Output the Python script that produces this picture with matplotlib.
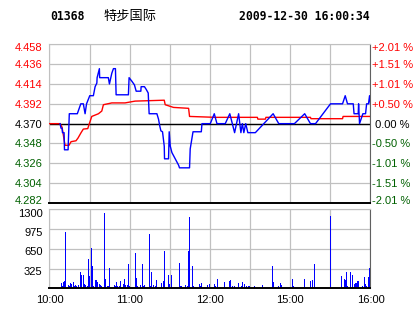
import matplotlib
matplotlib.use("Agg")
import matplotlib.pyplot as plt
from matplotlib.transforms import ScaledTranslation

# trading minutes since 10:00 (morning 10:00-12:30, afternoon 14:30-16:00)
price_t = [7.9, 8.6, 9.4, 9.7, 10.9, 11.2, 13.9, 14.8, 20.8, 23.4, 25.3, 26.6, 27.7, 30.1,
           32.8, 34.1, 35.4, 35.6, 37.3, 37.5, 44.0, 44.8, 46.6, 47.8, 49.3, 49.8, 59.0,
           59.5, 61.6, 63.5, 64.8, 68.3, 68.5, 71.0, 72.3, 73.8, 74.5, 80.3, 81.5, 82.5,
           83.3, 84.5, 85.8, 86.0, 89.0, 89.5, 90.3, 91.5, 94.0, 96.5, 97.2, 104.7, 105.2,
           107.3, 113.5, 114.0, 120.2, 123.2, 125.2, 131.4, 134.8, 138.4, 141.4, 143.1,
           144.2, 145.3, 146.7, 148.3, 153.9, 167.2, 171.4, 183.1, 190.8, 195.1, 198.9,
           210.1, 219.1, 221.1, 222.8, 227.1, 227.7, 230.8, 231.1, 231.8, 234.3, 236.3,
           237.1, 238.5, 239.3, 240.0]
price = [4.370, 4.365, 4.365, 4.360, 4.360, 4.341, 4.341, 4.381, 4.381, 4.392, 4.392, 4.381,
         4.392, 4.401, 4.401, 4.411, 4.415, 4.421, 4.431, 4.421, 4.421, 4.414, 4.426, 4.431,
         4.431, 4.402, 4.402, 4.421, 4.417, 4.413, 4.406, 4.406, 4.411, 4.411, 4.408, 4.404,
         4.381, 4.381, 4.375, 4.367, 4.362, 4.361, 4.345, 4.331, 4.331, 4.361, 4.345, 4.338,
         4.331, 4.324, 4.321, 4.321, 4.342, 4.361, 4.361, 4.370, 4.370, 4.381, 4.370, 4.370,
         4.381, 4.360, 4.381, 4.360, 4.370, 4.360, 4.370, 4.360, 4.360, 4.381, 4.370, 4.370,
         4.381, 4.370, 4.370, 4.392, 4.392, 4.401, 4.392, 4.392, 4.381, 4.381, 4.392, 4.370,
         4.381, 4.381, 4.392, 4.392, 4.401, 4.392]

avg_t = [0, 7.9, 9.4, 11.6, 14.6, 16.1, 19.8, 21.3, 23.6, 25.3, 28.6, 29.8, 31.6, 36.6, 39.1,
         40.3, 46.6, 56.5, 64.0, 85.8, 86.5, 92.7, 104.0, 104.7, 124.0, 155.4, 155.8, 161.4,
         161.8, 195.1, 195.5, 219.1, 219.5, 240.0]
avg = [4.370, 4.370, 4.366, 4.346, 4.346, 4.350, 4.351, 4.354, 4.360, 4.364, 4.3645, 4.370,
       4.378, 4.381, 4.384, 4.391, 4.393, 4.393, 4.395, 4.396, 4.391, 4.388, 4.387, 4.378,
       4.377, 4.377, 4.375, 4.375, 4.377, 4.377, 4.3755, 4.3755, 4.378, 4.378]

vol_t = [8.5, 9.2, 10.4, 11.2, 11.9, 13.7, 14.4, 15.2, 16.4, 17.2, 18.2, 19.4, 20.1, 21.1,
         23.1, 23.9, 25.4, 26.1, 26.9, 28.4, 29.1, 29.8, 31.3, 32.1, 32.8, 34.3, 35.1, 35.8,
         37.3, 38.1, 38.8, 40.5, 41.8, 43.3, 44.0, 44.8, 48.0, 49.2, 50.0, 50.7, 52.2, 53.0,
         55.2, 56.0, 56.7, 58.2, 58.9, 59.7, 64.2, 64.9, 65.7, 67.9, 68.9, 70.1, 70.9, 74.1,
         74.9, 76.1, 77.6, 79.1, 79.8, 83.6, 85.1, 85.8, 88.8, 89.5, 91.0, 97.0, 97.7, 98.5,
         101.5, 103.0, 103.7, 104.5, 106.7, 107.4, 111.9, 112.7, 113.4, 117.9, 119.4, 123.1,
         123.9, 125.3, 130.6, 134.3, 135.0, 136.5, 138.0, 141.0, 143.3, 144.0, 145.5, 147.0,
         148.5, 149.2, 152.9, 158.9, 166.4, 167.1, 170.9, 172.4, 173.1, 181.3, 182.1, 190.3,
         194.7, 196.2, 197.7, 209.7, 217.9, 220.1, 220.8, 221.6, 222.3, 224.6, 226.1, 227.6,
         228.3, 229.1, 229.8, 230.5, 233.5, 235.0, 235.8, 236.5, 238.0, 238.8, 239.5]
vol = [82, 33, 99, 115, 927, 49, 33, 82, 66, 99, 33, 49, 33, 49,
       263, 219, 219, 66, 49, 33, 477, 197, 658, 362, 33, 132, 132, 99,
       66, 49, 33, 1234, 148, 33, 33, 329, 49, 33, 99, 33, 33, 115,
       66, 148, 49, 49, 395, 33, 576, 165, 33, 49, 395, 33, 49, 889,
       33, 263, 49, 33, 132, 82, 115, 609, 214, 66, 214, 411, 33, 33,
       49, 33, 609, 1168, 362, 33, 66, 33, 82, 49, 66, 66,
       33, 148, 99, 115, 132, 33, 33, 82, 33, 99, 66, 33,
       33, 33, 33, 49, 362, 99, 33, 82, 49, 148, 33, 148,
       115, 132, 395, 1185, 197, 148, 132, 263, 33, 263, 214, 66,
       82, 82, 115, 115, 33, 181, 66, 33, 181, 329, 66]

prev_close = 4.370
price_ticks = [4.282, 4.304, 4.326, 4.348, 4.370, 4.392, 4.414, 4.436, 4.458]
pct_labels = ["-2.01 %", "-1.51 %", "-1.01 %", "-0.50 %", " 0.00 %",
              "+0.50 %", "+1.01 %", "+1.51 %", "+2.01 %"]
vol_ticks = [0, 325, 650, 975, 1300]
time_ticks = [0, 60, 120, 180, 240]
time_labels = ["10:00", "11:00", "12:00", "15:00", "16:00"]

RED = "#ff0000"
GREEN = "#006000"
GRID = "#c0c0c0"

plt.rcParams["font.family"] = ["Liberation Sans", "DejaVu Sans"]

fig = plt.figure(figsize=(4.14, 3.14), dpi=100)
ax = fig.add_axes([49.5 / 414, 1 - 203 / 314, 321 / 414, 158.7 / 314])
axv = fig.add_axes([49.5 / 414, 1 - 288.3 / 314, 321 / 414, 79 / 314])


def shift(label, px):
    # move a tick label down by px pixels
    label.set_transform(label.get_transform() + ScaledTranslation(0, -px / 100, fig.dpi_scale_trans))


for a in (ax, axv):
    a.set_xlim(0, 240)
    a.set_xticks(range(0, 241, 30))
    a.grid(True, color=GRID, lw=0.9)
    a.set_axisbelow(True)
    a.tick_params(length=0)
    for s in ("left", "top"):
        a.spines[s].set_color(GRID)
    a.spines["right"].set_color("#606060")
    a.spines["bottom"].set_color("black")
    a.spines["bottom"].set_linewidth(1.4)

# price panel
ax.set_ylim(4.282, 4.458)
ax.set_yticks(price_ticks)
ax.set_xticklabels([])
ax.axhline(prev_close, color="black", lw=1.0, zorder=2)
ax.plot(avg_t, avg, color=RED, lw=1.0, zorder=3)
ax.plot(price_t, price, color="#0000ff", lw=1.0, zorder=4)
ax.set_yticklabels([f"{v:.3f}" for v in price_ticks], fontsize=8)
ax.tick_params(axis="y", pad=5)

axr = ax.twinx()
axr.set_ylim(ax.get_ylim())
axr.set_yticks(price_ticks)
axr.set_yticklabels(pct_labels, fontsize=8)
axr.tick_params(length=0, pad=1)
for s in axr.spines.values():
    s.set_visible(False)

for labels in (ax.get_yticklabels(), axr.get_yticklabels()):
    for lab, v in zip(labels, price_ticks):
        lab.set_color(RED if v > prev_close else (GREEN if v < prev_close else "black"))
    shift(labels[0], -3.5)
    shift(labels[-1], 3)

# volume panel
axv.set_ylim(0, 1300)
axv.set_yticks(vol_ticks)
axv.set_yticklabels([""] + [str(v) for v in vol_ticks[1:]], fontsize=8)
axv.tick_params(axis="y", pad=5)
for lab in axv.get_yticklabels():
    shift(lab, 2.5)
shift(axv.get_yticklabels()[-1], 1)
axv.vlines(vol_t, 0, vol, color="#0000ff", lw=0.72, antialiased=False)
axv.set_xticks(time_ticks)
axv.set_xticklabels(time_labels, fontsize=8)
axv.set_xticks(range(0, 241, 30), minor=True)
axv.grid(True, which="minor", axis="x", color=GRID, lw=0.9)
axv.tick_params(axis="x", which="both", length=0, pad=5)

# header
fig.text(50 / 414, 1 - 17 / 314, "01368", family="DejaVu Sans Mono", weight="bold",
         fontsize=8.3, va="center", ha="left")
fig.text(103 / 414, 1 - 16 / 314, "特步国际", family=["Noto Sans CJK SC", "DejaVu Sans"],
         fontsize=9.5, va="center", ha="left")
fig.text(370 / 414, 1 - 17 / 314, "2009-12-30 16:00:34", family="DejaVu Sans Mono",
         weight="bold", fontsize=8.3, va="center", ha="right")

fig.savefig("out.png", dpi=100)
